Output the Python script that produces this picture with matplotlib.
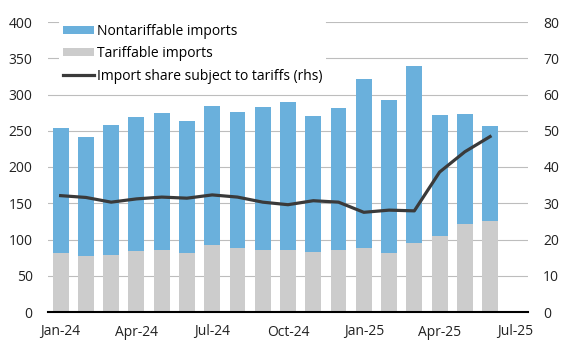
import numpy as np
import matplotlib.pyplot as plt

months = ["Jan-24", "Feb-24", "Mar-24", "Apr-24", "May-24", "Jun-24", "Jul-24", "Aug-24", "Sep-24",
          "Oct-24", "Nov-24", "Dec-24", "Jan-25", "Feb-25", "Mar-25", "Apr-25", "May-25", "Jun-25", "Jul-25"]
total = [254, 241, 258, 269, 275, 263, 284, 276, 283, 290, 271, 281, 321, 292, 340, 272, 273, 257]
tariffable = [81, 77, 79, 84, 86, 82, 92, 88, 86, 86, 83, 85, 88, 82, 95, 105, 121, 125]
share = [32.1, 31.6, 30.3, 31.2, 31.7, 31.4, 32.3, 31.7, 30.3, 29.6, 30.7, 30.3, 27.5, 28.1, 27.9,
         38.6, 44.2, 48.4]
tick_months = ["Jan-24", "Apr-24", "Jul-24", "Oct-24", "Jan-25", "Apr-25", "Jul-25"]

nontariffable = np.array(total) - np.array(tariffable)
n = len(total)
x = np.arange(n)

plt.rcParams['font.family'] = ['Open Sans', 'DejaVu Sans']

fig = plt.figure(figsize=(5.8, 3.48), dpi=100)
ax = fig.add_axes([48 / 580, 1 - 312 / 348, 480 / 580, 290 / 348])
ax2 = ax.twinx()

blue = "#6AB0DC"
grey = "#CCCCCC"
w = 0.63
fs = 10

ax.bar(x, tariffable, w, color=grey, label="Tariffable imports", zorder=2)
ax.bar(x, nontariffable, w, bottom=tariffable, color=blue, label="Nontariffable imports", zorder=2)
ax2.plot(x, share, color="#3A3A3A", lw=2.3, label="Import share subject to tariffs (rhs)", zorder=3)

ax.set_xlim(-0.5, len(months) - 0.5)
ax.set_ylim(0, 400)
ax2.set_ylim(0, 80)
ax.set_yticks(range(0, 401, 50))
ax2.set_yticks(range(0, 81, 10))
ax.set_xticks([months.index(m) for m in tick_months])
ax.set_xticklabels(tick_months)

ax.yaxis.grid(True, color="#BDBDBD", lw=0.8, zorder=0)
ax.set_axisbelow(True)
for s in ["top", "left", "right"]:
    ax.spines[s].set_visible(False)
    ax2.spines[s].set_visible(False)
ax2.spines["bottom"].set_visible(False)
ax.spines["bottom"].set_color("black")
ax.spines["bottom"].set_linewidth(1.5)
ax.spines["bottom"].set_zorder(4)

ax.tick_params(axis="both", length=0, labelsize=fs, colors="#222222")
ax.tick_params(axis="y", pad=11)
ax.tick_params(axis="x", pad=9)
ax2.tick_params(axis="y", length=0, labelsize=fs, colors="#222222", pad=11)

h1, l1 = ax.get_legend_handles_labels()
h2, l2 = ax2.get_legend_handles_labels()
handles = [h1[1], h1[0], h2[0]]
labels = [l1[1], l1[0], l2[0]]
leg = ax2.legend(handles, labels, loc="upper left", bbox_to_anchor=(0.023, 1.007), frameon=True,
                 fontsize=fs, handlelength=2.2, handleheight=0.5, handletextpad=0.2,
                 labelspacing=0.52, borderaxespad=0, borderpad=0.3)
leg.get_frame().set_facecolor("white")
leg.get_frame().set_edgecolor("none")
leg.get_frame().set_alpha(1)

fig.savefig("out.png", dpi=100)
